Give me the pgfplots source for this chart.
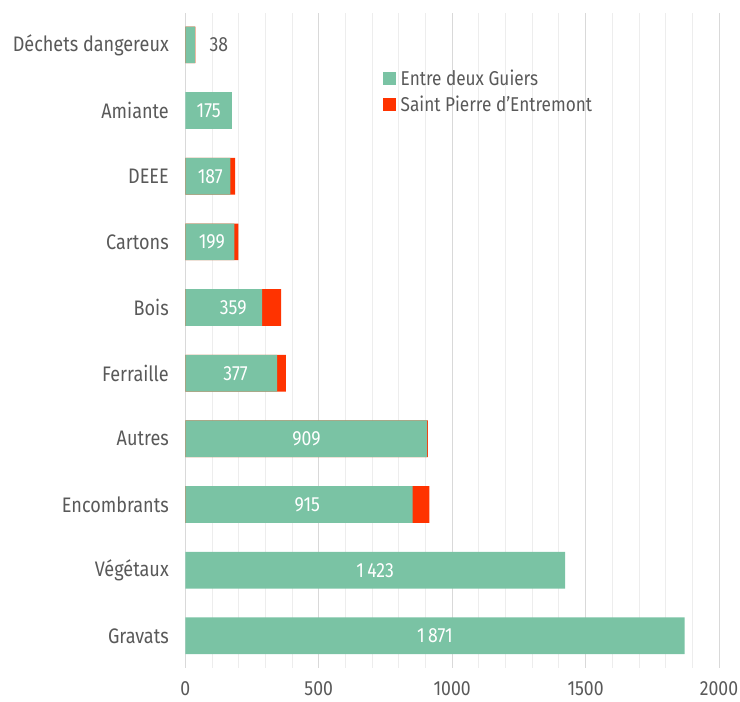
\documentclass[border=0pt]{standalone}
\usepackage{pgfplots}
\usepackage{pgfplotstable}
\pgfplotsset{compat=1.18}
\usepackage{fontspec}
\setmainfont{Fira Sans}[FakeStretch=0.86]
\definecolor{vert}{RGB}{122,195,164}
\definecolor{rouge}{RGB}{255,51,0}
\definecolor{texte}{RGB}{89,89,89}

% idx: 0 = Gravats (en bas) ... 9 = Dechets dangereux (en haut)
\pgfplotstableread{
idx green total
0 1871 1871
1 1423 1423
2 852 915
3 906 909
4 344 377
5 288 359
6 184 199
7 169 187
8 175 175
9 37 38
}\dechets

\begin{document}
\begin{tikzpicture}
\path[use as bounding box] (-185.3pt,-34pt) rectangle (554.7pt,668pt);
\begin{axis}[
  at={(0,0)}, anchor=south west,
  scale only axis,
  width=533.7pt, height=655.3pt,
  xmin=0, xmax=2000,
  ymin=-0.49, ymax=9.49,
  xtick={0,500,...,2000},
  minor x tick num=4,
  ytick={0,...,9},
  yticklabels={Gravats,Végétaux,Encombrants,Autres\ ,Ferraille,Bois,Cartons,DEEE,Amiante,Déchets dangereux},
  major tick length=0pt, minor tick length=0pt,
  axis line style={draw=none},
  xmajorgrids, xminorgrids,
  major grid style={draw=black!15, line width=0.8pt},
  minor grid style={draw=black!7, line width=0.8pt},
  /pgf/number format/assume math mode=true,
  /pgf/number format/1000 sep={},
  tick label style={font=\fontsize{20.5}{24}\selectfont, text=texte},
  yticklabel style={font=\fontsize{21}{24}\selectfont, xshift=-13pt},
  xticklabel style={yshift=-10pt},
  legend style={at={(0.3695,0.916)}, anchor=north west, draw=none, fill=none,
    font=\fontsize{20}{24}\selectfont, text=texte,
    row sep=5pt, inner sep=0pt,
    /tikz/every odd column/.append style={column sep=3pt}},
  legend cell align=left,
  legend image code/.code={\fill[#1] (0pt,-6.5pt) rectangle (13pt,6.5pt);},
  reverse legend,
]
% total (rouge) dessine dessous, seulement la ou il y a une part rouge
\addplot[xbar, bar width=36.7pt, bar shift=0pt, fill=rouge, draw=none,
  skip coords between index={0}{2}, skip coords between index={8}{9}]
  table[x=total, y=idx] {\dechets};
\addlegendentry{Saint Pierre d'Entremont}
\addplot[xbar, bar width=36.7pt, bar shift=0pt, fill=vert, draw=none]
  table[x=green, y=idx] {\dechets};
\addlegendentry{Entre deux Guiers}
\addplot[only marks, mark=none, forget plot, point meta=explicit symbolic,
  nodes near coords,
  every node near coord/.style={anchor=center, text=white, font=\fontsize{20.5}{24}\selectfont}]
  coordinates {
  (935.5,0) [1\,871]
  (711.5,1) [1\,423]
  (457.5,2) [915]
  (454.5,3) [909]
  (188.5,4) [377]
  (179.5,5) [359]
  (99.5,6) [199]
  (93.5,7) [187]
  (87.5,8) [175]
  };
\addplot[only marks, mark=none, forget plot, point meta=explicit symbolic,
  nodes near coords,
  every node near coord/.style={anchor=center, text=texte, font=\fontsize{20.5}{24}\selectfont}]
  coordinates {(126,9) [38]};
\end{axis}
\end{tikzpicture}
\end{document}
